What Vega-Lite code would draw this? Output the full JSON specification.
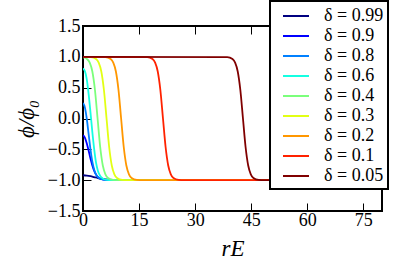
{
  "$schema": "https://vega.github.io/schema/vega-lite/v6.json",
  "width": 299,
  "height": 185,
  "autosize": {"type": "none"},
  "padding": {"left": 83, "top": 26, "right": 17, "bottom": 57},
  "config": {
    "view": {"stroke": "#000", "strokeWidth": 2},
    "font": "Liberation Serif",
    "axis": {"grid": false, "domain": false, "labelFlush": false, "labelFont": "Liberation Serif", "labelFontSize": 18, "labelColor": "#000", "tickColor": "#000", "tickWidth": 1, "tickSize": -8, "titleFont": "Liberation Serif", "titleFontSize": 23, "titleFontWeight": "normal", "titleFontStyle": "italic", "titleColor": "#000"}
  },
  "data": {"values": [
    {"d":"δ = 0.99","r":0,"phi":-0.92},{"d":"δ = 0.99","r":1,"phi":-0.925},{"d":"δ = 0.99","r":2,"phi":-0.935},{"d":"δ = 0.99","r":3,"phi":-0.95},{"d":"δ = 0.99","r":4,"phi":-0.965},{"d":"δ = 0.99","r":5,"phi":-0.977},{"d":"δ = 0.99","r":6,"phi":-0.986},{"d":"δ = 0.99","r":8,"phi":-0.996},{"d":"δ = 0.99","r":10,"phi":-1},{"d":"δ = 0.99","r":80,"phi":-1},
    {"d":"δ = 0.9","r":0,"phi":-0.27},{"d":"δ = 0.9","r":0.5,"phi":-0.31},{"d":"δ = 0.9","r":1,"phi":-0.4},{"d":"δ = 0.9","r":1.5,"phi":-0.52},{"d":"δ = 0.9","r":2,"phi":-0.65},{"d":"δ = 0.9","r":2.5,"phi":-0.76},{"d":"δ = 0.9","r":3,"phi":-0.85},{"d":"δ = 0.9","r":3.5,"phi":-0.91},{"d":"δ = 0.9","r":4,"phi":-0.95},{"d":"δ = 0.9","r":5,"phi":-0.985},{"d":"δ = 0.9","r":6,"phi":-0.996},{"d":"δ = 0.9","r":8,"phi":-1},{"d":"δ = 0.9","r":80,"phi":-1},
    {"d":"δ = 0.8","r":0,"phi":0.25},{"d":"δ = 0.8","r":0.5,"phi":0.18},{"d":"δ = 0.8","r":1,"phi":0.0},{"d":"δ = 0.8","r":1.5,"phi":-0.25},{"d":"δ = 0.8","r":2,"phi":-0.5},{"d":"δ = 0.8","r":2.5,"phi":-0.7},{"d":"δ = 0.8","r":3,"phi":-0.83},{"d":"δ = 0.8","r":3.5,"phi":-0.91},{"d":"δ = 0.8","r":4,"phi":-0.95},{"d":"δ = 0.8","r":5,"phi":-0.985},{"d":"δ = 0.8","r":6,"phi":-0.996},{"d":"δ = 0.8","r":8,"phi":-1},{"d":"δ = 0.8","r":80,"phi":-1},
    {"d":"δ = 0.6","r":0,"phi":0.81},{"d":"δ = 0.6","r":0.5,"phi":0.77},{"d":"δ = 0.6","r":1,"phi":0.64},{"d":"δ = 0.6","r":1.5,"phi":0.4},{"d":"δ = 0.6","r":2,"phi":0.1},{"d":"δ = 0.6","r":2.5,"phi":-0.22},{"d":"δ = 0.6","r":3,"phi":-0.5},{"d":"δ = 0.6","r":3.5,"phi":-0.72},{"d":"δ = 0.6","r":4,"phi":-0.85},{"d":"δ = 0.6","r":4.5,"phi":-0.92},{"d":"δ = 0.6","r":5,"phi":-0.96},{"d":"δ = 0.6","r":6,"phi":-0.99},{"d":"δ = 0.6","r":7,"phi":-0.998},{"d":"δ = 0.6","r":9,"phi":-1},{"d":"δ = 0.6","r":80,"phi":-1},
    {"d":"δ = 0.4","r":0,"phi":0.99},{"d":"δ = 0.4","r":0.5,"phi":0.985},{"d":"δ = 0.4","r":1.1,"phi":0.964},{"d":"δ = 0.4","r":1.8,"phi":0.905},{"d":"δ = 0.4","r":2.5,"phi":0.762},{"d":"δ = 0.4","r":3.2,"phi":0.462},{"d":"δ = 0.4","r":3.9,"phi":0},{"d":"δ = 0.4","r":4.6,"phi":-0.462},{"d":"δ = 0.4","r":5.3,"phi":-0.762},{"d":"δ = 0.4","r":6.0,"phi":-0.905},{"d":"δ = 0.4","r":6.7,"phi":-0.964},{"d":"δ = 0.4","r":8.1,"phi":-0.995},{"d":"δ = 0.4","r":10,"phi":-1},{"d":"δ = 0.4","r":80,"phi":-1},
    {"d":"δ = 0.3","r":0,"phi":1},{"d":"δ = 0.3","r":2.1,"phi":0.995},{"d":"δ = 0.3","r":3.5,"phi":0.964},{"d":"δ = 0.3","r":4.2,"phi":0.905},{"d":"δ = 0.3","r":4.9,"phi":0.762},{"d":"δ = 0.3","r":5.6,"phi":0.462},{"d":"δ = 0.3","r":6.3,"phi":0},{"d":"δ = 0.3","r":7.0,"phi":-0.462},{"d":"δ = 0.3","r":7.7,"phi":-0.762},{"d":"δ = 0.3","r":8.4,"phi":-0.905},{"d":"δ = 0.3","r":9.1,"phi":-0.964},{"d":"δ = 0.3","r":10.5,"phi":-0.995},{"d":"δ = 0.3","r":12,"phi":-1},{"d":"δ = 0.3","r":80,"phi":-1},
    {"d":"δ = 0.2","r":0,"phi":1},{"d":"δ = 0.2","r":6.0,"phi":0.995},{"d":"δ = 0.2","r":7.4,"phi":0.964},{"d":"δ = 0.2","r":8.1,"phi":0.905},{"d":"δ = 0.2","r":8.8,"phi":0.762},{"d":"δ = 0.2","r":9.5,"phi":0.462},{"d":"δ = 0.2","r":10.2,"phi":0},{"d":"δ = 0.2","r":10.9,"phi":-0.462},{"d":"δ = 0.2","r":11.6,"phi":-0.762},{"d":"δ = 0.2","r":12.3,"phi":-0.905},{"d":"δ = 0.2","r":13.0,"phi":-0.964},{"d":"δ = 0.2","r":14.4,"phi":-0.995},{"d":"δ = 0.2","r":16,"phi":-1},{"d":"δ = 0.2","r":80,"phi":-1},
    {"d":"δ = 0.1","r":0,"phi":1},{"d":"δ = 0.1","r":17.2,"phi":0.995},{"d":"δ = 0.1","r":18.6,"phi":0.964},{"d":"δ = 0.1","r":19.3,"phi":0.905},{"d":"δ = 0.1","r":20.0,"phi":0.762},{"d":"δ = 0.1","r":20.7,"phi":0.462},{"d":"δ = 0.1","r":21.4,"phi":0},{"d":"δ = 0.1","r":22.1,"phi":-0.462},{"d":"δ = 0.1","r":22.8,"phi":-0.762},{"d":"δ = 0.1","r":23.5,"phi":-0.905},{"d":"δ = 0.1","r":24.2,"phi":-0.964},{"d":"δ = 0.1","r":25.6,"phi":-0.995},{"d":"δ = 0.1","r":27,"phi":-1},{"d":"δ = 0.1","r":80,"phi":-1},
    {"d":"δ = 0.05","r":0,"phi":1},{"d":"δ = 0.05","r":38.6,"phi":0.995},{"d":"δ = 0.05","r":40.0,"phi":0.964},{"d":"δ = 0.05","r":40.7,"phi":0.905},{"d":"δ = 0.05","r":41.4,"phi":0.762},{"d":"δ = 0.05","r":42.1,"phi":0.462},{"d":"δ = 0.05","r":42.8,"phi":0},{"d":"δ = 0.05","r":43.5,"phi":-0.462},{"d":"δ = 0.05","r":44.2,"phi":-0.762},{"d":"δ = 0.05","r":44.9,"phi":-0.905},{"d":"δ = 0.05","r":45.6,"phi":-0.964},{"d":"δ = 0.05","r":47.0,"phi":-0.995},{"d":"δ = 0.05","r":48.5,"phi":-1},{"d":"δ = 0.05","r":80,"phi":-1}
  ]},
  "layer": [
    {
      "mark": {"type": "line", "interpolate": "monotone", "strokeWidth": 1.8, "clip": true},
      "encoding": {
        "x": {"field": "r", "type": "quantitative", "scale": {"domain": [0, 80], "nice": false, "zero": false}, "axis": {"orient": "bottom", "values": [0, 15, 30, 45, 60, 75], "title": "rE", "labelPadding": 8, "titlePadding": 8}},
        "y": {"field": "phi", "type": "quantitative", "scale": {"domain": [-1.5, 1.5], "nice": false}, "axis": {"orient": "left", "values": [-1.5, -1, -0.5, 0, 0.5, 1, 1.5], "format": ".1f", "title": "ϕ/ϕ₀", "labelPadding": 11, "titlePadding": 9}},
        "color": {"field": "d", "type": "nominal", "sort": ["δ = 0.99","δ = 0.9","δ = 0.8","δ = 0.6","δ = 0.4","δ = 0.3","δ = 0.2","δ = 0.1","δ = 0.05"],
          "scale": {"domain": ["δ = 0.99","δ = 0.9","δ = 0.8","δ = 0.6","δ = 0.4","δ = 0.3","δ = 0.2","δ = 0.1","δ = 0.05"], "range": ["#000080","#0000ff","#0080ff","#14ffe2","#7bff7b","#e2ff14","#ff9700","#ff2200","#800000"]},
          "legend": {"title": null, "orient": "none", "legendX": 187, "legendY": -25, "symbolType": "M-1.3,0H1.3", "symbolSize": 400, "symbolStrokeWidth": 2, "symbolFillColor": "transparent", "symbolOffset": 11, "labelFont": "Liberation Serif", "labelFontSize": 18, "labelColor": "#000", "labelOffset": 17, "fillColor": "#fff", "strokeColor": "#000", "padding": 4, "rowPadding": 0,
            "encode": {"legend": {"update": {"strokeWidth": {"value": 2}}}}}
        }
      }
    },
    {
      "mark": {"type": "line", "opacity": 0},
      "encoding": {
        "x": {"field": "r", "type": "quantitative", "axis": {"orient": "top", "values": [0, 15, 30, 45, 60, 75], "labels": false, "title": null}},
        "y": {"field": "phi", "type": "quantitative", "axis": {"orient": "right", "values": [-1.5, -1, -0.5, 0, 0.5, 1, 1.5], "labels": false, "title": null}}
      }
    }
  ],
  "resolve": {"axis": {"x": "independent", "y": "independent"}}
}
